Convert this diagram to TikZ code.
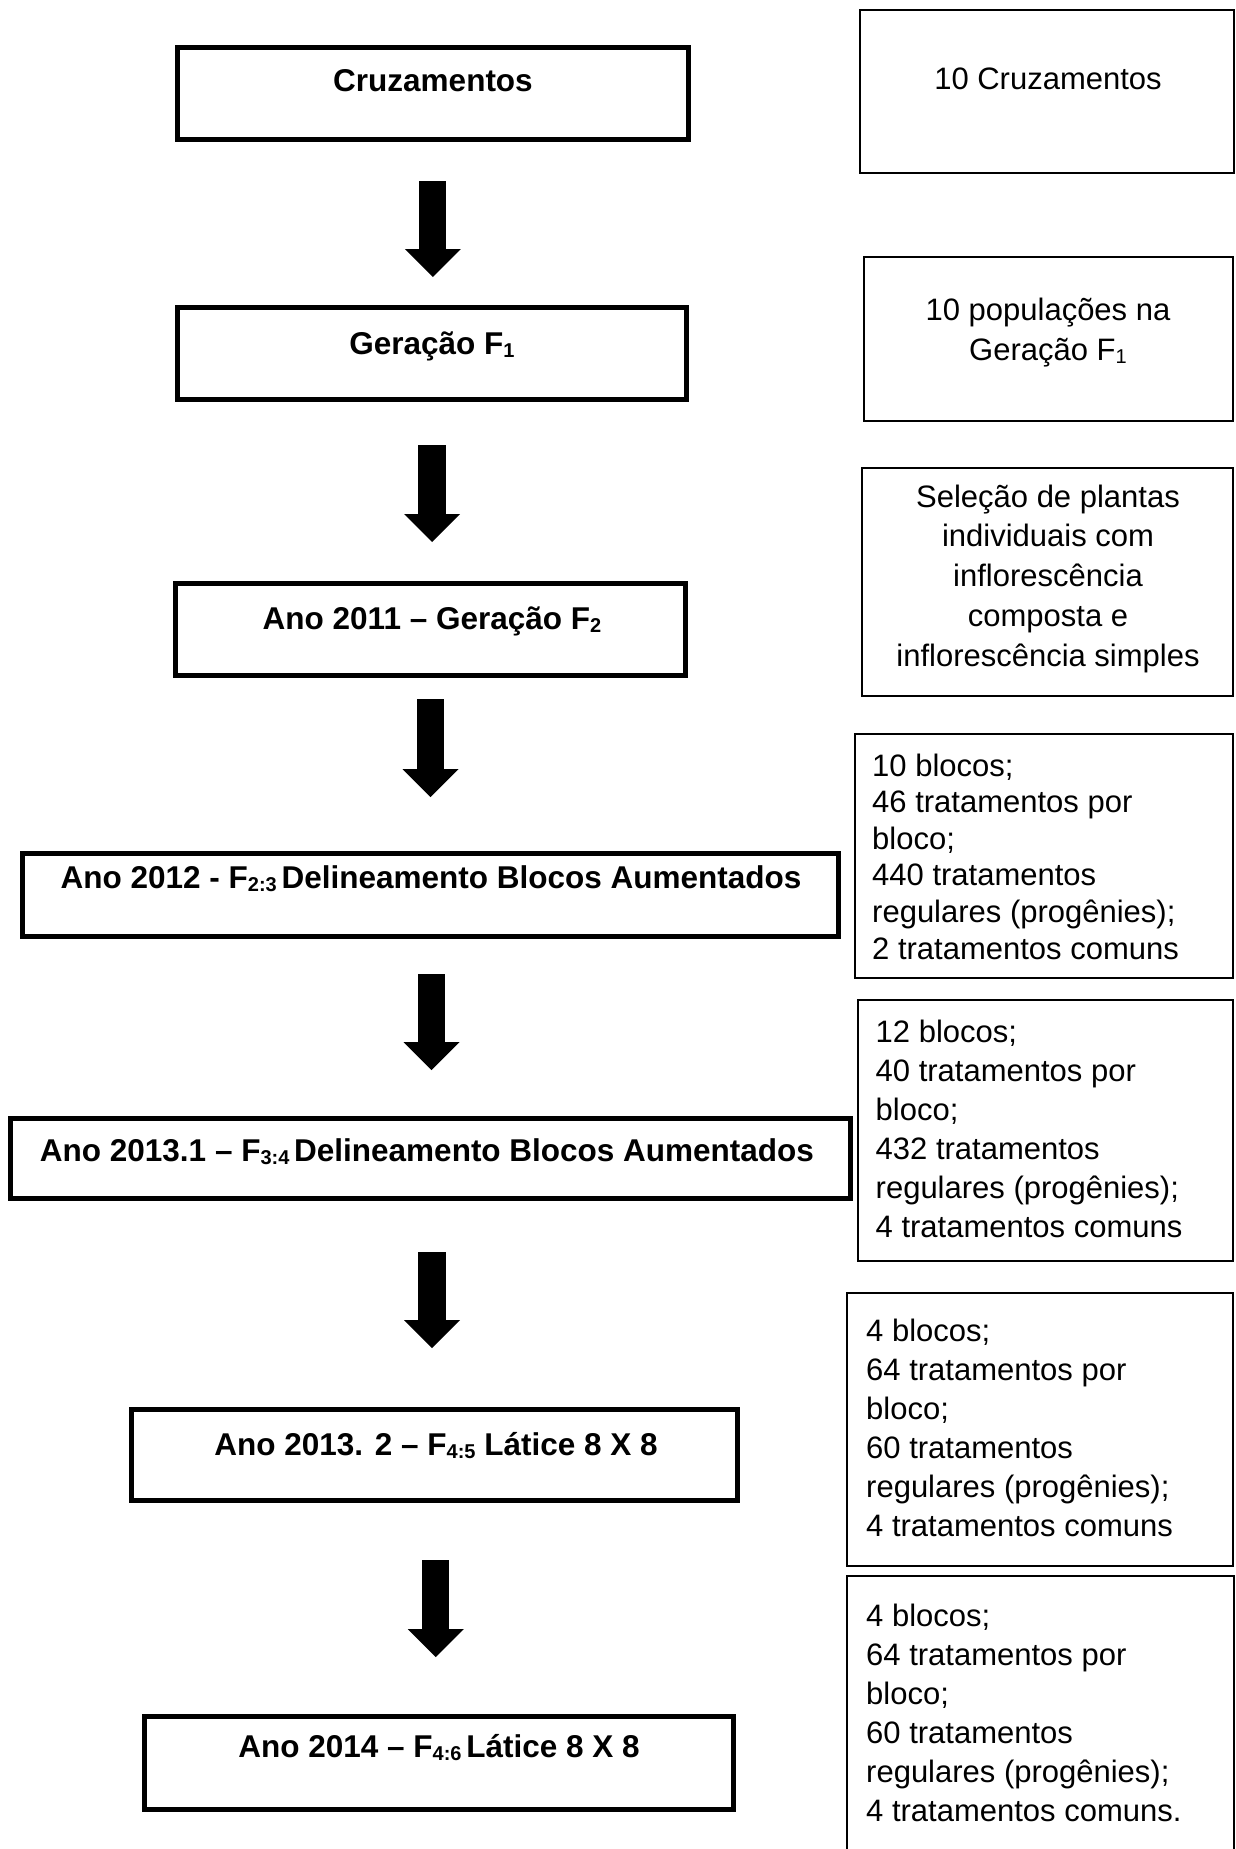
\documentclass[tikz,border=0pt]{standalone}
\usepackage{fontspec}
\setmainfont{Liberation Sans}
\usetikzlibrary{arrows.meta,calc}
\newcommand\subs[1]{\raisebox{-0.12em}{\fontsize{20}{20}\selectfont #1}}
\newcommand\leftlines[2]{\vtop{\baselineskip=#1\lineskiplimit=-1000pt\relax\halign{##\hfil\cr#2\crcr}}}
\newcommand\centerlines[2]{\vtop{\baselineskip=#1\lineskiplimit=-1000pt\relax\halign{\hfil##\hfil\cr#2\crcr}}}
\begin{document}
\begin{tikzpicture}[x=1pt,y=-1pt,
  lbox/.style={draw, line width=5pt, inner sep=0pt, outer sep=0pt, rectangle},
  rbox/.style={draw, line width=2pt, inner sep=0pt, outer sep=0pt, rectangle},
  ltext/.style={font=\fontsize{31.5}{38}\selectfont\bfseries, inner sep=0pt, anchor=base},
  rtext/.style={font=\fontsize{31}{39}\selectfont, inner sep=0pt, anchor=base},
  rltext/.style={font=\fontsize{31}{39}\selectfont, inner sep=0pt, anchor=base west},
  bigarrow/.style={line width=27.3pt, -{Triangle[width=56pt,length=28pt,line width=0pt]}}]
\useasboundingbox (0,0) rectangle (1236,1849);
\fill[white] (0,0) rectangle (1236,1849);

% left boxes
\node[lbox, minimum width=510.5pt, minimum height=92pt] (b1) at (432.75,94) {};
\node[lbox, minimum width=509pt, minimum height=92pt] (b2) at (432,353.5) {};
\node[lbox, minimum width=510pt, minimum height=92.5pt] (b3) at (430.5,629.25) {};
\node[lbox, minimum width=816pt, minimum height=83pt] (b4) at (430.5,895) {};
\node[lbox, minimum width=840pt, minimum height=80pt] (b5) at (430.5,1158.5) {};
\node[lbox, minimum width=606.5pt, minimum height=91pt] (b6) at (434.25,1455) {};
\node[lbox, minimum width=588.5pt, minimum height=93pt] (b7) at (438.75,1763) {};

% left texts
\node[ltext] (t1) at (433,92) {Cruzamentos};
\node[ltext] (t2) at (432,354) {Geração F\subs{1}};
\node[ltext] (t3) at (432,629) {Ano 2011 – Geração F\subs{2}};
\node[ltext] (t4) at (431,888) {Ano 2012 - F\subs{2:3}\hspace{0.15em}Delineamento Blocos Aumentados};
\node[ltext] (t5) at (427,1161) {Ano 2013.1 – F\subs{3:4}\hspace{0.15em}Delineamento Blocos Aumentados};
\node[ltext] (t6) at (436,1455) {Ano 2013. 2 – F\subs{4:5} Látice 8 X 8};
\node[ltext] (t7) at (439,1757) {Ano 2014 – F\subs{4:6}\hspace{0.15em}Látice 8 X 8};

% arrows
\draw[bigarrow] ($(b1.south)+(0,41)$) -- ($(b1.south |- b2.north)+(0,-30.5)$);
\draw[bigarrow] ($(b2.south)+(0,45.5)$) -- ($(b2.south |- b3.north)+(0,-41)$);
\draw[bigarrow] ($(b3.south)+(0,23.5)$) -- ($(b3.south |- b4.north)+(0,-56.5)$);
\draw[bigarrow] ($(b4.south)+(1,37.5)$) -- ($(b4.south |- b5.north)+(1,-48.5)$);
\draw[bigarrow] ($(b5.south)+(1.5,53.5)$) -- ($(b5.south |- b6.north)+(1.5,-61.5)$);
\draw[bigarrow] ($(b6.south)+(1.5,59.5)$) -- ($(b6.south |- b7.north)+(1.5,-59.5)$);

% right boxes
\node[rbox, minimum width=374pt, minimum height=163pt] (r1) at (1047,91.5) {};
\node[rbox, minimum width=369pt, minimum height=164pt] (r2) at (1048.5,339) {};
\node[rbox, minimum width=371pt, minimum height=228pt] (r3) at (1047.5,582) {};
\node[rbox, minimum width=378pt, minimum height=244pt] (r4) at (1044,856) {};
\node[rbox, minimum width=375pt, minimum height=261pt] (r5) at (1045.5,1130.5) {};
\node[rbox, minimum width=386pt, minimum height=273pt] (r6) at (1040,1429.5) {};
\node[rbox, minimum width=387pt, minimum height=300pt] (r7) at (1040.5,1726) {};

% right texts
\node[rtext] (s1) at (1048,90) {10 Cruzamentos};
\node[rtext] (s2) at (1048,320) {\centerlines{40pt}{10 populações na\cr Geração F\subs{1}}};
\node[rtext] (s3) at (1048,507) {\centerlines{39.75pt}{Seleção de plantas\cr individuais com\cr inflorescência\cr composta e\cr inflorescência simples}};
\node[rltext] (s4) at (872,776) {\leftlines{36.6pt}{10 blocos;\cr 46 tratamentos por\cr bloco;\cr 440 tratamentos\cr regulares (progênies);\cr 2 tratamentos comuns}};
\node[rltext] (s5) at (875.5,1042) {\leftlines{39pt}{12 blocos;\cr 40 tratamentos por\cr bloco;\cr 432 tratamentos\cr regulares (progênies);\cr 4 tratamentos comuns}};
\node[rltext] (s6) at (866,1341) {\leftlines{39pt}{4 blocos;\cr 64 tratamentos por\cr bloco;\cr 60 tratamentos\cr regulares (progênies);\cr 4 tratamentos comuns}};
\node[rltext] (s7) at (866,1626) {\leftlines{39pt}{4 blocos;\cr 64 tratamentos por\cr bloco;\cr 60 tratamentos\cr regulares (progênies);\cr 4 tratamentos comuns.}};
\end{tikzpicture}
\end{document}
